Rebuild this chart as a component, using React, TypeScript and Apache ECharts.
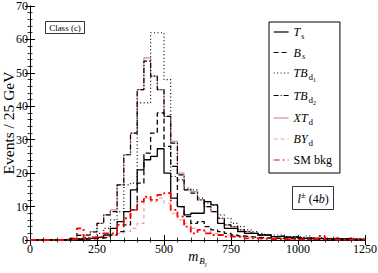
import React, { useEffect, useRef } from "react";
import * as echarts from "echarts";

// Bin starts (GeV), 25 GeV bins from 0 to 1225
const BIN_WIDTH = 25;
const binStarts: number[] = Array.from({ length: 50 }, (_, i) => i * BIN_WIDTH);

const Ts = [0, 0, 0, 0, 0, 0.2, 0.3, 0.3, 0.5, 0.5, 0.8, 1.5, 3.5, 5.5, 8.5, 15, 21, 24, 25, 27.3, 20, 12.5, 10, 7.5, 8, 8, 11.5, 10.5, 5, 3.5, 3.5, 2.5, 2, 2, 1.5, 1.5, 1, 1.2, 0.8, 1, 0.5, 0.6, 0.4, 0.5, 0.3, 0.4, 0.3, 0.5, 0.2, 0.2];
const Bs = [0, 0, 0, 0, 0, 0, 0.1, 0.2, 0.3, 0.4, 0.6, 0.8, 1.5, 2.5, 4.5, 9, 17, 26, 32, 38, 28, 22, 10, 7, 5, 5.5, 4, 3, 2.5, 2, 1.5, 1.2, 1, 0.8, 0.7, 0.6, 0.5, 0.5, 0.4, 0.3, 0.3, 0.3, 0.2, 0.3, 0.2, 0.2, 0.1, 0.2, 0.1, 0.1];
const TBd1 = [0, 0, 0, 0, 0, 0.1, 0.3, 0.5, 0.8, 1, 2, 3.5, 6, 8.5, 16.5, 17, 41, 41, 62, 62, 48, 19, 18, 15.5, 15, 12.5, 11, 10.5, 7.5, 6.5, 5, 4, 3, 2.5, 2, 1.5, 1.5, 1.5, 1, 1, 0.8, 1.2, 0.6, 0.8, 0.5, 0.8, 0.4, 0.5, 0.4, 0.3];
const TBd2 = [0, 0, 0, 0, 0, 0.2, 0.5, 1.4, 1.5, 2.4, 5, 7.5, 8.5, 16.5, 25.5, 32, 45, 53.5, 49, 45, 37, 29, 19.5, 15, 14, 12, 10, 8.5, 6.5, 4.5, 4, 3, 2.5, 2, 1.5, 1.5, 1, 1, 0.8, 0.8, 0.6, 0.5, 0.5, 0.4, 0.4, 0.3, 0.3, 0.3, 0.2, 0.2];
const XTd = [0, 0, 0, 0, 0, 0.2, 0.5, 1.5, 1.5, 2.5, 5, 7.5, 9, 16.5, 25.5, 32, 45, 54.5, 49, 45, 37, 29.5, 20, 15, 14.5, 12, 10, 8.5, 6.5, 4.5, 4, 3, 2.5, 2, 1.5, 1.5, 1, 1, 0.8, 0.8, 0.6, 0.5, 0.5, 0.4, 0.4, 0.3, 0.3, 0.3, 0.2, 0.2];
const BYd = [0, 0, 0, 0, 0, 0, 0.1, 0.3, 0.5, 0.5, 0.8, 1, 1.5, 2, 2.5, 3.5, 5, 12.5, 11.5, 12.5, 11, 8, 6, 5, 3.5, 3, 2.5, 2, 1.5, 1.5, 1.2, 1, 0.8, 0.6, 0.5, 0.5, 0.4, 0.4, 0.3, 0.3, 0.3, 0.2, 0.2, 0.2, 0.2, 0.1, 0.1, 0.1, 0.1, 0.1];
const SMbkg = [0, 0, 0, 0, 0, 0.2, 0.3, 3.5, 0.5, 0.8, 1, 2, 2, 4.5, 6.5, 9, 11.5, 13, 12, 13.5, 14, 9, 7, 4, 2, 3, 2, 1.5, 1.5, 1, 1, 0.8, 0.5, 0.5, 0.4, 0.3, 0.3, 0.3, 0.2, 0.2, 0.2, 0.2, 0.3, 1.2, 0.2, 0.1, 0.1, 0.1, 0.1, 0.1];

const X_TICKS = [0, 250, 500, 750, 1000, 1250];
const Y_TICKS = [0, 10, 20, 30, 40, 50, 60, 70];

const FONT = "'Liberation Serif', 'Times New Roman', serif";

const toSteps = (vals: number[]) => {
  const pts = vals.map((v, i) => [binStarts[i], v]);
  pts.push([binStarts[binStarts.length - 1] + BIN_WIDTH, vals[vals.length - 1]]);
  return pts;
};

const legendRich: Record<string, string> = {
  Ts: "{i|T}{s|s}",
  Bs: "{i|B}{s|s}",
  TBd1: "{i|TB}{d|d}{n|1}",
  TBd2: "{i|TB}{d|d}{n|2}",
  XTd: "{i|XT}{d|d}",
  BYd: "{i|BY}{d|d}",
  "SM bkg": "{r|SM bkg}",
};

export default function App() {
  const ref = useRef<HTMLDivElement>(null);
  useEffect(() => {
    if (!ref.current) return;
    const chart = echarts.init(ref.current, null, { renderer: "svg" });
    const axisCommon = {
      axisLine: { show: true, lineStyle: { color: "#000", width: 1 } },
      axisTick: { show: true, inside: true, length: 5, lineStyle: { color: "#000", width: 1 } },
      minorTick: { show: true, splitNumber: 5, length: 2.5, lineStyle: { color: "#000", width: 0.8 } },
      splitLine: { show: false },
      minorSplitLine: { show: false },
    };
    const line = (name: string, data: number[], color: string, type: any, width: number, z: number) => ({
      name,
      type: "line",
      step: "end",
      symbol: "none",
      showSymbol: false,
      data: toSteps(data),
      lineStyle: { color, type, width },
      itemStyle: { color },
      z,
    });
    chart.setOption({
      animation: false,
      backgroundColor: "#fff",
      textStyle: { fontFamily: FONT },
      grid: { left: 30, right: 13, top: 6, bottom: 33, containLabel: false, outerBoundsMode: "none" },
      xAxis: [
        {
          type: "value",
          min: X_TICKS[0],
          max: X_TICKS[X_TICKS.length - 1],
          interval: X_TICKS[1] - X_TICKS[0],
          position: "bottom",
          ...axisCommon,
          axisLabel: { color: "#000", fontSize: 12, fontFamily: FONT, margin: 3, formatter: (v: number) => String(v) },
          name: "{m|m}{b|B}{l|l}",
          nameLocation: "middle",
          nameGap: 5,
          nameMoveOverlap: false,
          nameTextStyle: {
            rich: {
              m: { fontSize: 14, fontStyle: "italic", fontFamily: FONT, color: "#000" },
              b: { fontSize: 9, fontStyle: "italic", fontFamily: FONT, color: "#000", padding: [8, 0, 0, 1] },
              l: { fontSize: 7, fontStyle: "italic", fontFamily: FONT, color: "#000", padding: [16, 0, 0, 0] },
            },
          },
        },
        {
          type: "value",
          min: X_TICKS[0],
          max: X_TICKS[X_TICKS.length - 1],
          interval: X_TICKS[1] - X_TICKS[0],
          position: "top",
          ...axisCommon,
          axisLabel: { show: false },
        },
      ],
      yAxis: [
        {
          type: "value",
          min: Y_TICKS[0],
          max: Y_TICKS[Y_TICKS.length - 1],
          interval: Y_TICKS[1] - Y_TICKS[0],
          position: "left",
          ...axisCommon,
          axisLabel: { color: "#000", fontSize: 12, fontFamily: FONT, margin: 2, lineHeight: 12 },
          name: "Events / 25 GeV",
          nameLocation: "middle",
          nameGap: 14,
          nameMoveOverlap: false,
          nameTextStyle: { color: "#000", fontSize: 15.5, fontFamily: FONT },
        },
        {
          type: "value",
          min: Y_TICKS[0],
          max: Y_TICKS[Y_TICKS.length - 1],
          interval: Y_TICKS[1] - Y_TICKS[0],
          position: "right",
          ...axisCommon,
          axisLabel: { show: false },
        },
      ],
      legend: {
        data: ["Ts", "Bs", "TBd1", "TBd2", "XTd", "BYd", "SM bkg"],
        orient: "vertical",
        left: 269,
        top: 22,
        width: 66,
        padding: [4, 8, 7, 4],
        itemWidth: 15,
        itemHeight: 8,
        itemGap: 6.5,
        borderColor: "#000",
        borderWidth: 1,
        backgroundColor: "#fff",
        itemStyle: { opacity: 0, borderWidth: 0 },
        lineStyle: { width: 1.2 },
        formatter: (name: string) => legendRich[name] || name,
        textStyle: {
          color: "#000",
          fontFamily: FONT,
          rich: {
            i: { fontSize: 12, fontStyle: "italic", fontFamily: FONT, color: "#000" },
            s: { fontSize: 8, fontFamily: FONT, color: "#000", padding: [8, 0, 0, 1] },
            d: { fontSize: 9, fontFamily: FONT, color: "#000", padding: [8, 0, 0, 1] },
            n: { fontSize: 6, fontFamily: FONT, color: "#000", padding: [14, 0, 0, 0] },
            r: { fontSize: 12, fontFamily: FONT, color: "#000", padding: [2, 0, 2, 0] },
          },
        },
      },
      graphic: [
        {
          type: "rect",
          shape: { x: 45.5, y: 21.5, width: 39, height: 12 },
          style: { fill: "#fff", stroke: "#000", lineWidth: 0.8 },
          z: 100,
        },
        {
          type: "text",
          x: 65,
          y: 28,
          style: { text: "Class (c)", fontSize: 9, fontFamily: FONT, fill: "#000", align: "center", verticalAlign: "middle" },
          z: 101,
        },
        {
          type: "rect",
          shape: { x: 292.5, y: 186.5, width: 41, height: 23 },
          style: { fill: "#fff", stroke: "#000", lineWidth: 0.8 },
          z: 100,
        },
        {
          type: "text",
          x: 313,
          y: 199,
          style: {
            text: "{i|l}{sup|±}{n| (4}{i|b}{n|)}",
            align: "center",
            verticalAlign: "middle",
            rich: {
              i: { fontSize: 12, fontStyle: "italic", fontFamily: FONT, fill: "#000" },
              sup: { fontSize: 9, fontFamily: FONT, fill: "#000", padding: [0, 0, 8, 0] },
              n: { fontSize: 12, fontFamily: FONT, fill: "#000" },
            },
          },
          z: 101,
        },
      ],
      series: [
        line("XTd", XTd, "#cf8f8f", "solid", 1.2, 2),
        line("BYd", BYd, "#eaa5a5", [4, 3], 1.2, 2),
        line("Ts", Ts, "#000", "solid", 1.3, 3),
        line("Bs", Bs, "#000", [5, 3], 1.3, 3),
        line("TBd1", TBd1, "#000", [1, 2.5], 1.2, 3),
        line("TBd2", TBd2, "#000", [5, 2, 1, 2], 1.2, 3),
        line("SM bkg", SMbkg, "#ff0000", [6, 3, 2, 3], 1.8, 4),
      ],
    });
    return () => chart.dispose();
  }, []);
  return (
    <div
      ref={ref}
      style={{ position: "fixed", left: 0, top: 0, width: 378, height: 273, background: "#fff" }}
    />
  );
}
